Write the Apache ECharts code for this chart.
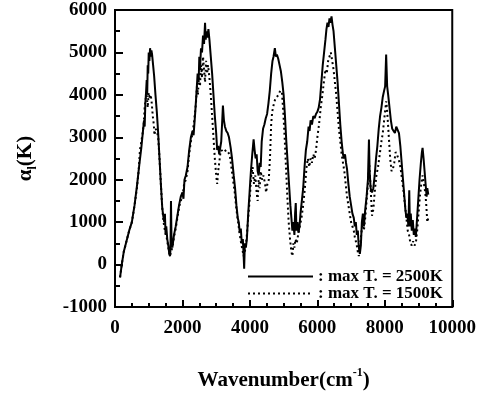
<!DOCTYPE html>
<html>
<head>
    <meta charset="utf-8">
    <title>alpha vs wavenumber</title>
    <script src="https://cdn.jsdelivr.net/npm/echarts@6/dist/echarts.min.js"></script>
    <style>
        html, body {
            margin: 0;
            padding: 0;
            background: #fff;
        }
        #chart {
            width: 479px;
            height: 396px;
        }
    </style>
</head>
<body>
<div id="chart"></div>
<script>
    // max T. = 2500K (solid)
    var hotX = [150, 200, 260, 340, 420, 500, 580, 650, 720, 780, 830, 860, 880, 900, 920, 940, 955, 970, 985, 1000,
        1020, 1040, 1060, 1080, 1100, 1130, 1160, 1200, 1240, 1280, 1320, 1360, 1400, 1430, 1460, 1480, 1500, 1520, 1550, 1580,
        1610, 1630, 1645, 1660, 1675, 1700, 1750, 1800, 1850, 1900, 1950, 2000, 2030, 2060, 2100, 2150, 2200, 2250, 2300, 2330,
        2380, 2420, 2450, 2480, 2500, 2520, 2550, 2580, 2610, 2640, 2670, 2690, 2710, 2740, 2770, 2800, 2840, 2880, 2920, 2960,
        3000, 3030, 3060, 3090, 3120, 3150, 3180, 3200, 3230, 3260, 3300, 3340, 3380, 3430, 3470, 3520, 3560, 3600, 3640, 3670,
        3700, 3730, 3760, 3790, 3810, 3830, 3850, 3880, 3910, 3950, 3990, 4030, 4070, 4110, 4140, 4170, 4200, 4230, 4260, 4290,
        4320, 4350, 4390, 4430, 4470, 4510, 4550, 4590, 4630, 4670, 4700, 4740, 4770, 4800, 4840, 4880, 4920, 4960, 5000, 5040,
        5080, 5120, 5160, 5200, 5230, 5260, 5290, 5320, 5340, 5360, 5380, 5410, 5440, 5470, 5500, 5540, 5580, 5620, 5660, 5700,
        5740, 5770, 5800, 5840, 5880, 5920, 5960, 6000, 6040, 6080, 6120, 6160, 6200, 6240, 6270, 6300, 6330, 6360, 6390, 6420,
        6450, 6480, 6520, 6560, 6600, 6640, 6680, 6720, 6760, 6790, 6820, 6850, 6880, 6920, 6960, 7000, 7040, 7080, 7110, 7140,
        7170, 7200, 7230, 7260, 7290, 7320, 7350, 7380, 7420, 7460, 7500, 7530, 7550, 7580, 7620, 7660, 7700, 7740, 7780, 7820,
        7860, 7900, 7940, 7980, 8010, 8040, 8070, 8100, 8140, 8180, 8220, 8260, 8300, 8340, 8380, 8420, 8460, 8500, 8540, 8580,
        8610, 8640, 8670, 8700, 8725, 8745, 8770, 8800, 8830, 8860, 8890, 8920, 8950, 8990, 9030, 9070, 9100, 9120, 9150, 9180,
        9210, 9240, 9260, 9290];
    var hotY = [-300, 0, 300, 550, 800, 1000, 1400, 1850, 2350, 2750, 3150, 3400, 3250, 3800, 4050, 4350, 4000, 4700, 4500, 5000,
        4800, 5100, 4900, 5050, 4950, 4700, 4450, 4000, 3600, 3100, 2500, 1900, 1350, 1150, 1000, 1200, 700, 900, 600, 450,
        250, 200, 350, 1500, 600, 400, 700, 900, 1150, 1400, 1600, 1700, 1550, 2000, 2100, 2300, 2700, 3000, 3150, 3050,
        3600, 4100, 4500, 4300, 4900, 4600, 5100, 5000, 5400, 5200, 5700, 5300, 5500, 5350, 5550, 5300, 4900, 4500, 4000, 3500,
        3100, 2700, 2800, 2600, 2750, 2900, 3400, 3750, 3400, 3250, 3150, 3100, 3000, 2750, 2500, 2100, 1800, 1400, 1100, 1000,
        750, 850, 500, 600, 300, -100, 500, 400, 600, 1200, 1700, 2200, 2600, 2950, 2700, 2500, 2600, 2200, 2100, 2400,
        2300, 2900, 3200, 3300, 3450, 3550, 3800, 4100, 4500, 4800, 4900, 5100, 4900, 4950, 4850, 4700, 4550, 4300, 4000, 3500,
        2900, 2400, 1900, 1400, 1100, 800, 1000, 700, 1200, 1450, 800, 1000, 750, 900, 1200, 1500, 1800, 2300, 2700, 2900,
        3250, 3150, 3400, 3300, 3500, 3450, 3550, 3600, 3700, 3900, 4300, 4700, 5000, 5300, 5550, 5700, 5600, 5800, 5700, 5850,
        5650, 5500, 5100, 4700, 4300, 3800, 3300, 2900, 2600, 2500, 2600, 2400, 2250, 1900, 1600, 1400, 1200, 1100, 900, 1000,
        700, 800, 400, 250, 450, 1000, 1200, 900, 1300, 1600, 2000, 2950, 2200, 1800, 1700, 1800, 2100, 2500, 2800, 3200,
        3500, 3700, 3950, 4100, 4200, 4950, 4200, 4000, 3700, 3400, 3200, 3150, 3100, 3250, 3250, 3100, 2800, 2400, 2000, 1600,
        1300, 1100, 1200, 900, 1750, 900, 1200, 800, 1050, 700, 850, 650, 1000, 1500, 2000, 2400, 2650, 2750, 2500, 2200,
        1900, 1600, 1800, 1650];

    // max T. = 1500K (dotted)
    var coolX = [150, 200, 260, 340, 420, 500, 580, 650, 700, 740, 770, 820, 850, 880, 910, 940, 970, 1000, 1030, 1060,
        1090, 1120, 1150, 1170, 1200, 1240, 1280, 1320, 1360, 1400, 1440, 1480, 1520, 1560, 1600, 1630, 1660, 1700, 1750, 1800,
        1850, 1900, 1950, 2000, 2050, 2100, 2150, 2200, 2250, 2300, 2350, 2400, 2430, 2460, 2490, 2520, 2550, 2580, 2610, 2640,
        2670, 2700, 2730, 2760, 2800, 2840, 2880, 2920, 2960, 3000, 3030, 3060, 3090, 3120, 3160, 3200, 3250, 3300, 3350, 3400,
        3450, 3500, 3550, 3600, 3650, 3700, 3740, 3780, 3810, 3850, 3900, 3950, 4000, 4040, 4080, 4120, 4160, 4200, 4230, 4260,
        4290, 4320, 4360, 4400, 4450, 4480, 4520, 4560, 4600, 4630, 4660, 4700, 4750, 4800, 4850, 4900, 4950, 4990, 5030, 5070,
        5110, 5150, 5190, 5230, 5260, 5290, 5320, 5350, 5390, 5430, 5480, 5530, 5580, 5630, 5680, 5720, 5760, 5800, 5840, 5880,
        5920, 5960, 6000, 6050, 6100, 6150, 6200, 6240, 6280, 6320, 6360, 6400, 6440, 6480, 6520, 6560, 6600, 6640, 6680, 6720,
        6760, 6800, 6840, 6880, 6920, 6960, 7000, 7040, 7080, 7120, 7160, 7200, 7230, 7260, 7300, 7340, 7380, 7420, 7460, 7500,
        7540, 7580, 7620, 7660, 7700, 7750, 7800, 7850, 7900, 7940, 7980, 8020, 8045, 8080, 8120, 8160, 8200, 8240, 8280, 8320,
        8360, 8400, 8440, 8480, 8520, 8560, 8600, 8640, 8680, 8720, 8760, 8800, 8840, 8880, 8920, 8960, 9000, 9040, 9080, 9120,
        9160, 9200, 9230, 9260, 9290];
    var coolY = [-300, 0, 300, 550, 800, 1000, 1400, 1800, 2200, 2700, 2850, 3100, 3300, 3700, 3900, 4000, 3700, 4050, 3900, 4000,
        3800, 3500, 3300, 3050, 3200, 3150, 3000, 2500, 1900, 1350, 1000, 800, 700, 500, 300, 200, 300, 400, 650, 850,
        1100, 1350, 1500, 1600, 1900, 2000, 2200, 2600, 2900, 3100, 3400, 3800, 4200, 4000, 4500, 4200, 4700, 4400, 4900, 4600,
        4300, 4800, 4500, 4700, 4400, 4000, 3500, 3000, 2500, 2100, 1900, 2200, 2400, 2600, 2700, 2650, 2650, 2700, 2700, 2600,
        2300, 2000, 1700, 1300, 1000, 700, 500, 350, 200, 300, 600, 1100, 1600, 2100, 2300, 1900, 2100, 1700, 1500, 2000,
        1800, 2200, 2000, 2100, 1900, 1700, 1900, 2000, 2600, 3300, 3600, 3750, 3900, 3950, 4000, 4100, 4050, 3600, 3000, 2300,
        1600, 1000, 600, 300, 200, 500, 400, 600, 500, 700, 900, 1100, 1400, 1800, 2300, 2500, 2300, 2500, 2400, 2600,
        2500, 2700, 3000, 3300, 3700, 4000, 4350, 4600, 4500, 4800, 4900, 5000, 4800, 4600, 4300, 4000, 3600, 3200, 2900, 2600,
        2400, 2200, 1900, 1600, 1400, 1200, 1000, 900, 800, 600, 500, 300, 200, 400, 700, 1000, 800, 1100, 1500, 1900,
        2350, 1800, 1150, 1300, 1700, 2100, 2300, 2600, 2900, 3100, 3400, 3700, 3850, 3500, 3000, 2500, 2200, 2250, 2400, 2650,
        2600, 2500, 2400, 2200, 1950, 1700, 1400, 1100, 800, 700, 500, 450, 550, 450, 500, 800, 1200, 1600, 1900, 2100,
        1900, 1700, 1400, 1000, 1100];

    var xTicks = {min: 0, max: 10000, step: 2000};
    var yTicks = {min: -1000, max: 6000, step: 1000};
    var seriesNames = ['max T. = 2500K', 'max T. = 1500K'];

    function pairs(xs, ys) {
        var out = [];
        for (var i = 0; i < xs.length; i++) {
            out.push([xs[i], ys[i]]);
        }
        return out;
    }

    // plain numbers, no thousands separator
    function plain(v) {
        return String(v);
    }

    var font = 'Liberation Serif, Times New Roman, serif';

    var chart = echarts.init(document.getElementById('chart'), null, {renderer: 'canvas'});

    var option = {
        backgroundColor: '#fff',
        animation: false,
        textStyle: {fontFamily: font, color: '#000', fontWeight: 'bold'},
        grid: {
            left: 115, right: 24, top: 10, bottom: 83,
            show: true, borderColor: '#000', borderWidth: 2
        },
        legend: {
            left: 247,
            top: 268,
            orient: 'vertical',
            itemWidth: 65,
            itemHeight: 10,
            itemGap: 0,
            padding: 0,
            data: seriesNames,
            itemStyle: {opacity: 0},
            formatter: function (name) { return ': ' + name; },
            textStyle: {fontFamily: font, fontWeight: 'bold', fontSize: 17, lineHeight: 16, color: '#000'}
        },
        xAxis: {
            type: 'value',
            min: xTicks.min, max: xTicks.max, interval: xTicks.step,
            axisLine: {onZero: false, lineStyle: {color: '#000', width: 2}},
            axisTick: {inside: true, length: 7, lineStyle: {color: '#000', width: 2}},
            minorTick: {show: true, splitNumber: 4, length: 4, lineStyle: {color: '#000', width: 2}},
            splitLine: {show: false},
            axisLabel: {margin: 12, fontSize: 19, fontWeight: 'bold', fontFamily: font, color: '#000', formatter: plain},
            name: '{a|Wavenumber(cm}{s|-1}{a|)}',
            nameLocation: 'middle',
            nameGap: 60,
            nameTextStyle: {
                rich: {
                    a: {fontSize: 21, fontWeight: 'bold', fontFamily: font, color: '#000', verticalAlign: 'bottom', lineHeight: 24},
                    s: {fontSize: 12, fontWeight: 'bold', fontFamily: font, color: '#000', verticalAlign: 'top', lineHeight: 24}
                }
            }
        },
        yAxis: {
            type: 'value',
            min: yTicks.min, max: yTicks.max, interval: yTicks.step,
            axisLine: {onZero: false, lineStyle: {color: '#000', width: 2}},
            axisTick: {inside: true, length: 8, lineStyle: {color: '#000', width: 2}},
            minorTick: {show: true, splitNumber: 2, length: 5, lineStyle: {color: '#000', width: 2}},
            splitLine: {show: false},
            axisLabel: {margin: 8, fontSize: 19, fontWeight: 'bold', fontFamily: font, color: '#000', formatter: plain},
            name: '{a|α}{s|l}{a|(K)}',
            nameLocation: 'middle',
            nameGap: 76,
            nameTextStyle: {
                rich: {
                    a: {fontSize: 21, fontWeight: 'bold', fontFamily: font, color: '#000', verticalAlign: 'top', lineHeight: 24},
                    s: {fontSize: 12, fontWeight: 'bold', fontFamily: font, color: '#000', verticalAlign: 'bottom', lineHeight: 24}
                }
            }
        },
        series: [
            {
                name: seriesNames[0],
                type: 'line',
                symbol: 'none',
                data: pairs(hotX, hotY),
                lineStyle: {color: '#000', width: 2}
            },
            {
                name: seriesNames[1],
                type: 'line',
                symbol: 'none',
                data: pairs(coolX, coolY),
                lineStyle: {color: '#000', width: 2, type: [2, 3]}
            }
        ]
    };

    chart.setOption(option);
</script>
</body>
</html>
